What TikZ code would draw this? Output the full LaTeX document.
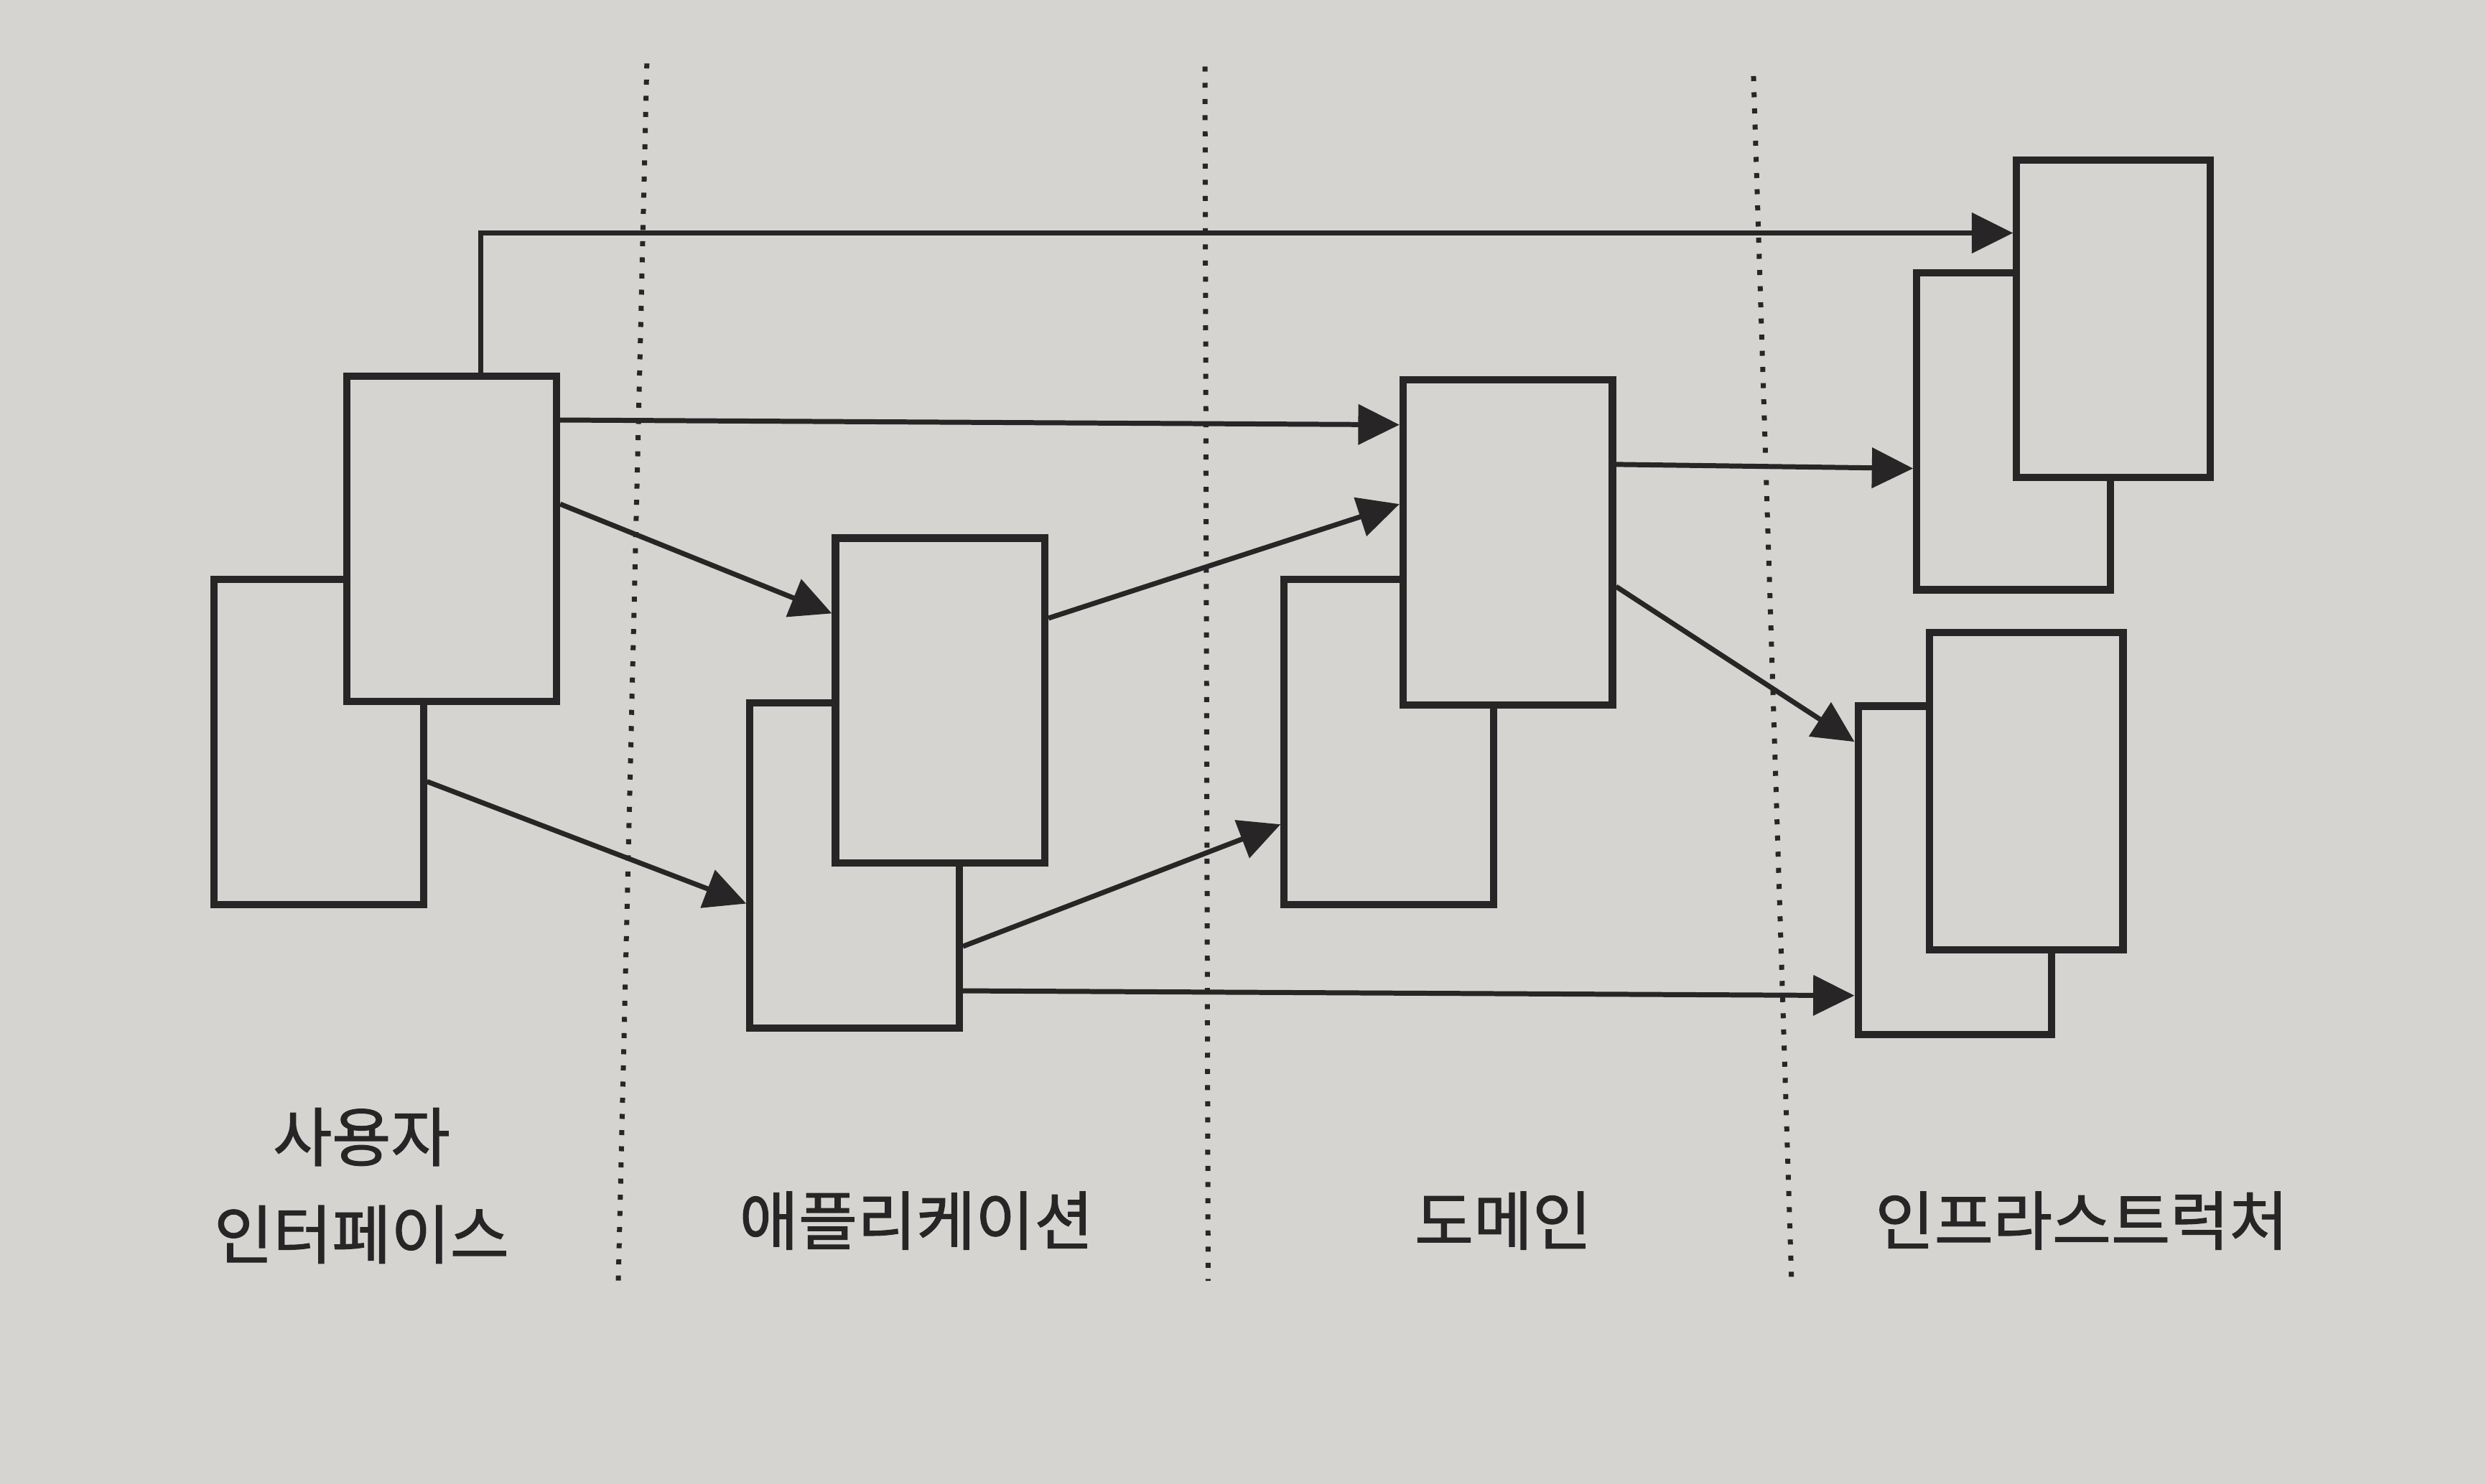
\documentclass[tikz,border=0pt]{standalone}
\usepackage{fontspec}
\setmainfont{Noto Sans CJK KR}
\newfontfamily\capfont{Noto Sans CJK KR}[FakeBold=1.3]
\usetikzlibrary{arrows.meta,positioning}
\definecolor{paper}{RGB}{213,212,208}
\definecolor{ink}{RGB}{40,37,38}

\begin{document}
\begin{tikzpicture}[x=0.01cm,y=-0.01cm,
    card/.style={draw=ink,fill=paper,line width=1.3pt,minimum width=1.32cm,minimum height=2.05cm,inner sep=0pt},
    thin card/.style={card,minimum width=1.22cm,minimum height=2cm},
    dep/.style={draw=ink,line width=0.9pt,-{Triangle[length=2.6mm,width=2.5mm]}},
    layer/.style={draw=ink,line width=0.9pt,dotted},
    caption/.style={align=center,font=\capfont\fontsize{11.5}{17.5}\selectfont,text=ink}]
      \fill[paper] (0,0) rectangle (1568,936);
      \useasboundingbox (0,0) rectangle (1568,936);
      % layer borders
      \draw[layer] (408,40) -- (390,808);
      \draw[layer] (760,42) -- (762,808);
      \draw[layer] (1106,48) -- (1130,808);
      % cards, back ones first
      \node[card] (uib) at (201,468) {};
      \node[card] (uif) at (285,340) {};
      \node[card] (apb) at (539,546) {};
      \node[card] (apf) at (593,442) {};
      \node[card] (dob) at (876,468) {};
      \node[card] (dof) at (951,342) {};
      \node[thin card] (itb) at (1270,272) {};
      \node[thin card] (itf) at (1333,201) {};
      \node[thin card,minimum height=2.07cm] (ibb) at (1233,549) {};
      \node[thin card] (ibf) at (1278,499) {};
      % dependencies
      \draw[dep] ([xshift=0.18cm]uif.north) |- ([yshift=0.54cm]itf.west);
      \draw[dep] ([yshift=0.75cm]uif.east) -- ([yshift=0.74cm]dof.west);
      \draw[dep] ([yshift=0.22cm]uif.east) -- ([yshift=0.55cm]apf.west);
      \draw[dep] ([yshift=-0.25cm]uib.east) -- ([yshift=-0.24cm]apb.west);
      \draw[dep] ([yshift=0.52cm]apf.east) -- ([yshift=0.24cm]dof.west);
      \draw[dep] ([yshift=-0.51cm]apb.east) -- ([yshift=-0.52cm]dob.west);
      \draw[dep] ([yshift=-0.79cm]apb.east) -- ([yshift=-0.79cm]ibb.west);
      \draw[dep] ([yshift=0.49cm]dof.east) -- ([yshift=-0.235cm]itb.west);
      \draw[dep] ([yshift=-0.28cm]dof.east) -- ([yshift=0.81cm]ibb.west);
      % layer names
      \node[caption] (ui) at (228,748) {사용자\\인터페이스};
      \node[caption] (ap) at (578,770) {애플리케이션};
      \node[caption] (do) at (948,770) {도메인};
      \node[caption] (in) at (1313,770) {인프라스트럭처};
    \end{tikzpicture}
\end{document}
